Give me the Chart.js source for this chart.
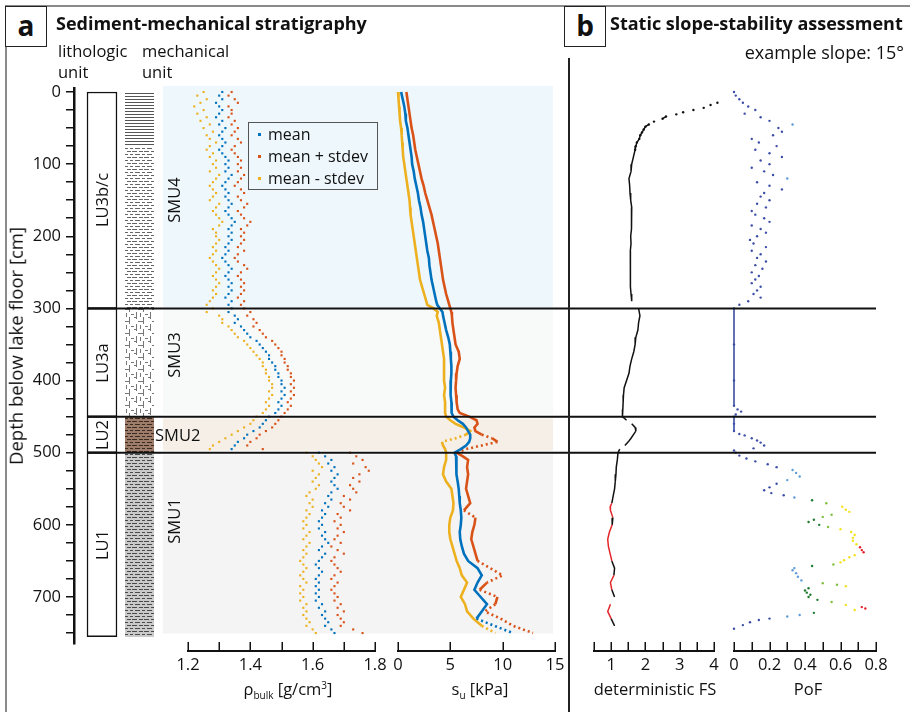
<!DOCTYPE html>
<html>
<head>
<meta charset="utf-8">
<title>Sediment-mechanical stratigraphy</title>
<script src="https://cdn.jsdelivr.net/npm/chart.js@4.4.1/dist/chart.umd.min.js"></script>
<style>
  body { margin: 0; background: #fff; }
  #fig { position: relative; width: 910px; height: 712px; overflow: hidden; font-family: "Open Sans", sans-serif; color: #111; }
  #fig canvas { position: absolute; top: 0; }
  .t { position: absolute; white-space: nowrap; font-size: 16.5px; line-height: 1; z-index: 10; }
  .rot { transform: translate(-50%, -50%) rotate(-90deg); }
  .ctr { transform: translateX(-50%); }
  .bold { font-weight: bold; font-size: 18px; }
  .box { position: absolute; border: 1.5px solid #222; box-sizing: border-box; font-weight: bold; font-size: 28px; text-align: center; line-height: 36px; z-index: 10; background: #fff; }
  .rule { position: absolute; z-index: 9; }
  #legend { position: absolute; left: 248px; top: 122px; width: 130px; height: 68px; border: 1.2px solid #555; box-sizing: border-box; z-index: 10; }
  #legend div { position: absolute; left: 19px; font-size: 16px; line-height: 1; }
  #legend span { position: absolute; left: -10px; top: 7px; width: 3px; height: 3px; }
  sub, sup { font-size: 10px; line-height: 0; }
</style>
</head>
<body>
<div id="fig">
  <div class="rule" style="left:5px;top:5px;width:905px;height:2px;background:#8a8a8a"></div>
  <div class="rule" style="left:5px;top:5px;width:2px;height:707px;background:#8a8a8a"></div>
  <div class="rule" style="left:568px;top:58px;width:1.5px;height:654px;background:#222"></div>

  <div class="box" style="left:5px;top:6px;width:42px;height:41px">a</div>
  <div class="t bold" style="left:56px;top:14px">Sediment-mechanical stratigraphy</div>
  <div class="t" style="left:58px;top:43px">lithologic</div>
  <div class="t" style="left:58px;top:64px">unit</div>
  <div class="t" style="left:142px;top:43px">mechanical</div>
  <div class="t" style="left:142px;top:64px">unit</div>

  <div class="box" style="left:564px;top:6px;width:42px;height:41px">b</div>
  <div class="t bold" style="left:610px;top:14px">Static slope-stability assessment</div>
  <div class="t" style="right:6px;top:43px;font-size:18px">example slope: 15°</div>

  <div class="t rot" style="left:16px;top:346px;font-size:18.5px">Depth below lake floor [cm]</div>

  <div class="t ctr" style="left:288px;top:681px">ρ<sub>bulk</sub> [g/cm<sup>3</sup>]</div>
  <div class="t ctr" style="left:480px;top:681px">s<sub>u</sub> [kPa]</div>
  <div class="t ctr" style="left:655px;top:681px">deterministic FS</div>
  <div class="t ctr" style="left:808px;top:681px">PoF</div>

  <div id="legend"></div>
</div>

<script>
// ---------------- data ----------------
const depthTicks = [0,25,50,75,100,125,150,175,200,225,250,275,300,325,350,375,400,425,450,475,500,525,550,575,600,625,650,675,700,725,750];
const depthLabelled = [0,100,200,300,400,500,600,700];

const luNames = ['LU3b/c','LU3a','LU2','LU1'];
const luTop = [0,300,450,500];
const luBottom = [300,450,500,755];

const mechTop = [0,75,300,450,500];
const mechBottom = [75,300,450,500,755];

const smuNames = ['SMU4','SMU3','SMU2','SMU1'];
const smuTop = [-8,302,453,503];
const smuBottom = [298,446,497,750];
const smuLabelDepth = [150,365,475,595];

const boundaryDepth = [300,450,500];

// bulk density, one value every 5 cm from 0 to 750 cm
const rhoStep = 5;
const rhoMean = [1.31,1.30,1.31,1.29,1.30,1.31,
  1.30,1.29,1.31,1.30,1.32,1.31,1.30,1.31,1.32,1.31,1.30,1.31,1.32,1.33,
  1.32,1.33,1.32,1.34,1.33,1.32,1.31,1.32,1.33,1.32,1.33,1.34,1.33,1.32,1.33,1.34,1.35,1.34,1.33,1.34,
  1.33,1.34,1.33,1.32,1.33,1.32,1.31,1.32,1.33,1.34,1.33,1.32,1.33,1.34,1.33,1.34,1.33,1.32,1.34,1.33,
  1.34,1.33,1.35,1.36,1.35,1.37,1.38,1.39,1.40,1.42,1.43,1.44,1.45,1.46,1.46,1.47,1.48,1.48,1.49,1.49,
  1.50,1.50,1.51,1.50,1.51,1.50,1.49,1.50,1.49,1.48,
  1.46,1.45,1.44,1.43,1.41,1.39,1.38,1.36,1.35,1.34,
  1.62,1.64,1.66,1.65,1.67,1.66,1.68,1.67,1.66,1.67,1.68,1.66,1.65,1.66,1.64,1.65,1.63,1.64,1.63,1.62,
  1.63,1.62,1.64,1.63,1.64,1.65,1.63,1.62,1.64,1.63,1.62,1.61,1.62,1.63,1.62,1.61,1.62,1.61,1.62,1.61,
  1.62,1.61,1.63,1.62,1.64,1.63,1.64,1.65,1.64,1.66,1.67];
const rhoPlus = [1.34,1.33,1.35,1.36,1.33,1.34,
  1.34,1.33,1.35,1.34,1.36,1.35,1.34,1.36,1.37,1.35,1.34,1.35,1.36,1.37,
  1.36,1.37,1.36,1.38,1.37,1.36,1.35,1.37,1.38,1.36,1.37,1.39,1.38,1.36,1.37,1.38,1.40,1.39,1.37,1.38,
  1.37,1.38,1.37,1.36,1.38,1.36,1.35,1.36,1.38,1.39,1.37,1.36,1.37,1.38,1.37,1.38,1.37,1.36,1.38,1.37,
  1.38,1.40,1.39,1.41,1.42,1.41,1.43,1.44,1.45,1.47,1.48,1.49,1.50,1.50,1.51,1.51,1.52,1.52,1.53,1.53,
  1.54,1.53,1.54,1.53,1.54,1.53,1.52,1.53,1.52,1.51,
  1.50,1.49,1.48,1.47,1.45,1.43,1.42,1.40,1.39,1.44,
  1.72,1.74,1.76,1.73,1.77,1.78,1.75,1.73,1.75,1.72,1.73,1.74,1.70,1.72,1.69,1.70,1.72,1.68,1.69,1.67,
  1.69,1.68,1.70,1.68,1.67,1.69,1.66,1.68,1.70,1.67,1.66,1.67,1.68,1.69,1.67,1.66,1.68,1.67,1.66,1.67,
  1.68,1.67,1.69,1.68,1.70,1.68,1.69,1.70,1.69,1.73,1.76];
const rhoMinus = [1.25,1.23,1.26,1.24,1.22,1.25,
  1.23,1.26,1.24,1.27,1.25,1.28,1.26,1.27,1.29,1.27,1.26,1.28,1.27,1.29,
  1.28,1.29,1.27,1.30,1.29,1.28,1.27,1.28,1.29,1.28,1.27,1.30,1.29,1.28,1.29,1.30,1.31,1.30,1.28,1.29,
  1.29,1.30,1.29,1.28,1.29,1.28,1.27,1.28,1.29,1.30,1.29,1.28,1.29,1.30,1.29,1.28,1.29,1.28,1.27,1.26,
  1.28,1.26,1.30,1.31,1.31,1.33,1.34,1.35,1.36,1.38,1.39,1.40,1.41,1.42,1.43,1.44,1.44,1.45,1.45,1.46,
  1.46,1.47,1.47,1.46,1.47,1.46,1.45,1.46,1.45,1.44,
  1.42,1.41,1.40,1.38,1.36,1.34,1.32,1.30,1.28,1.27,
  1.58,1.60,1.61,1.62,1.63,1.60,1.62,1.61,1.60,1.62,1.61,1.59,1.58,1.60,1.59,1.60,1.58,1.59,1.58,1.57,
  1.58,1.57,1.59,1.58,1.57,1.59,1.58,1.57,1.58,1.57,1.56,1.57,1.58,1.57,1.56,1.57,1.58,1.56,1.57,1.56,
  1.57,1.56,1.58,1.57,1.58,1.57,1.58,1.59,1.58,1.60,1.61];

// undrained shear strength [kPa]
const suDepth = [0,10,20,30,40,50,60,70,80,90,100,110,120,130,140,150,160,170,180,190,200,210,220,230,240,250,260,270,280,290,
  295,300,305,310,320,330,340,350,360,370,380,390,400,410,420,430,
  440,445,450,455,460,465,470,475,480,485,490,495,500,505,510,
  520,530,540,550,560,570,580,590,600,610,620,630,640,650,660,670,680,690,700,710,720,730,740,750];
const suMean = [0.3,0.45,0.6,0.7,0.75,0.9,1.0,1.1,1.2,1.3,1.35,1.5,1.6,1.75,1.9,2.0,2.15,2.25,2.4,2.5,2.6,2.7,2.8,2.95,3.0,3.1,3.2,3.35,3.5,3.65,
  3.75,4.0,4.25,4.3,4.45,4.6,4.8,4.95,5.0,5.05,5.1,5.1,5.05,5.0,5.05,5.1,
  5.1,5.15,5.3,5.7,6.2,6.5,6.7,6.9,6.9,6.8,6.5,6.0,5.4,5.55,5.6,
  5.55,5.6,5.7,5.8,5.85,5.9,6.0,6.05,6.0,5.9,5.95,6.1,6.3,6.7,7.6,8.0,7.6,7.3,7.9,8.5,8.0,7.5,9.2,11.0];
const suPlus = [0.8,0.9,1.0,1.1,1.2,1.3,1.45,1.55,1.65,1.8,1.95,2.1,2.25,2.45,2.6,2.8,3.0,3.2,3.35,3.5,3.65,3.8,3.9,4.0,4.1,4.2,4.3,4.45,4.6,4.8,
  4.9,5.0,5.1,5.15,5.2,5.3,5.4,5.5,5.8,5.9,5.7,5.6,5.55,5.5,5.55,5.6,
  5.7,5.9,6.8,7.5,7.6,7.3,7.4,8.0,9.0,9.5,8.0,6.5,5.6,6.2,6.7,
  6.6,6.7,6.6,6.5,6.7,6.9,6.3,7.4,7.3,7.1,7.0,7.2,7.4,7.6,8.8,10.0,8.5,7.8,9.5,9.3,8.3,9.8,11.0,12.9];
const suMinus = [0.0,0.05,0.1,0.15,0.2,0.3,0.35,0.4,0.45,0.5,0.6,0.7,0.8,0.9,1.0,1.1,1.15,1.2,1.3,1.4,1.5,1.6,1.7,1.8,1.9,2.0,2.1,2.3,2.5,2.7,
  2.8,3.4,3.8,3.7,3.9,4.0,4.1,4.2,4.3,4.4,4.4,4.4,4.4,4.5,4.4,4.5,
  4.5,4.5,4.6,5.0,5.5,6.3,6.9,6.5,5.5,4.2,4.3,4.5,4.6,4.6,4.6,
  4.4,4.3,4.6,5.1,5.2,5.3,5.25,5.0,4.9,4.9,5.0,5.2,5.4,5.6,5.9,6.1,6.6,6.3,6.0,6.4,6.6,7.2,8.0,9.3];

// deterministic factor of safety
const fsDepth = [15,18,22,25,28,31,34,37,41,45,48,52,56,60,65,70,75,80,
  90,100,110,120,130,140,150,160,170,180,190,200,210,220,230,240,250,260,270,280,290,
  300,310,320,330,340,350,360,370,380,390,400,410,420,430,440,450,
  455,460,465,470,475,480,485,490,495,500,
  510,520,530,540,550,560,570,575,580,590,600,610,620,630,640,650,660,670,680,690,700,710,720,730,740,745,750];
const fsValue = [4.1,3.9,3.7,3.4,3.1,2.9,2.6,2.5,2.25,2.1,2.0,1.95,1.9,1.85,1.82,1.75,1.72,1.7,
  1.65,1.6,1.58,1.52,1.54,1.55,1.57,1.6,1.6,1.58,1.6,1.57,1.58,1.56,1.57,1.55,1.57,1.55,1.57,1.58,1.6,
  1.8,1.84,1.8,1.78,1.72,1.7,1.66,1.6,1.55,1.52,1.45,1.38,1.36,1.35,1.34,1.33,
  1.45,1.6,1.7,1.72,1.65,1.58,1.5,1.4,1.25,1.2,
  1.18,1.15,1.14,1.12,1.1,1.06,1.02,0.97,0.98,1.05,1.03,0.95,0.9,0.92,0.97,1.02,1.1,1.08,0.98,1.02,1.1,0.98,0.9,1.0,1.1,1.3,1.55];

// probability of failure
const pofDepth = [0,5,10,15,20,25,30,35,40,45,50,55,60,65,70,75,80,85,90,95,100,105,110,115,120,125,130,135,140,145,150,
  155,160,165,170,175,180,185,190,195,200,205,210,215,220,225,230,235,240,245,250,255,260,265,270,275,280,285,290,295,300,
  350,400,435,440,443,447,450,460,470,474,476,480,483,486,490,494,497,500,504,508,512,516,520,524,528,533,538,543,548,552,
  556,559,562,566,570,575,579,582,586,589,593,596,600,603,606,610,614,618,622,627,631,635,638,642,645,649,652,655,657,660,
  663,667,672,677,681,683,685,688,691,694,697,700,704,707,711,714,716,718,722,725,727,730,732,735,739,744];
const pofValue = [0.0,0.01,0.03,0.05,0.08,0.12,0.06,0.15,0.2,0.33,0.25,0.27,0.22,0.1,0.14,0.24,0.12,0.2,0.27,0.15,0.2,0.1,0.17,0.22,0.3,0.13,0.2,0.27,0.17,0.15,0.2,
  0.13,0.18,0.1,0.12,0.17,0.2,0.1,0.15,0.18,0.13,0.09,0.11,0.18,0.1,0.15,0.13,0.18,0.12,0.16,0.1,0.14,0.12,0.1,0.15,0.13,0.11,0.15,0.08,0.03,0.0,
  0,0,0,0.02,0.04,0.01,0,0,0,0.03,0.06,0.1,0.13,0.15,0.17,0.11,0,0.01,0.03,0.07,0.12,0.19,0.24,0.33,0.35,0.37,0.3,0.24,0.2,0.17,
  0.21,0.28,0.34,0.44,0.52,0.61,0.63,0.65,0.55,0.5,0.45,0.42,0.48,0.53,0.6,0.66,0.68,0.67,0.67,0.69,0.71,0.72,0.73,0.68,0.65,0.62,0.6,0.56,0.44,0.34,
  0.33,0.35,0.36,0.38,0.5,0.58,0.63,0.42,0.4,0.41,0.43,0.42,0.47,0.55,0.63,0.72,0.74,0.68,0.45,0.37,0.3,0.2,0.14,0.09,0.05,0];

// axis ticks
const rhoTicks = [1.2,1.3,1.4,1.5,1.6,1.7,1.8];
const rhoTickLabels = ['1.2','','1.4','','1.6','','1.8'];
const suTicks = [0,5,10,15];
const suTickLabels = ['0','5','10','15'];
const fsTicks = [0.5,1,1.5,2,2.5,3,3.5,4];
const fsTickLabels = ['','1','','2','','3','','4'];
const pofTicks = [0,0.1,0.2,0.3,0.4,0.5,0.6,0.7,0.8];
const pofTickLabels = ['0','','0.2','','0.4','','0.6','','0.8'];

const seriesNames = ['mean','mean + stdev','mean - stdev'];

// ---------------- styles ----------------
const BLUE = '#0072BD', RED = '#D95319', YELLOW = '#EDB120';
const smuColors = ['#eef7fc','#f8f9f9','#f5efe8','#f4f4f4'];

function pofColor(v) {
  if (v >= 0.7) return '#e4202a';
  if (v >= 0.6) return '#f2e21a';
  if (v >= 0.5) return '#7fbf3f';
  if (v >= 0.4) return '#1f7a2e';
  if (v >= 0.3) return '#5b9bd8';
  return '#3c4ea6';
}

// ---------------- layout helpers ----------------
Chart.defaults.font.family = '"Open Sans", sans-serif';
Chart.defaults.font.size = 16.5;
Chart.defaults.color = '#111';

const fig = document.getElementById('fig');
const K = 0.7214, Y0 = 92, H = 712;   // px per cm, pixel of 0 cm, canvas height
const DMIN = -10, DMAX = 775;
const AXIS_H = 30;                    // room kept for the x tick labels

function vpad(min, max) {
  return { top: Y0 + K * min, bottom: H - (Y0 + K * max) };
}

function canvasAt(left, width, z) {
  const c = document.createElement('canvas');
  c.width = width; c.height = H;
  c.style.left = left + 'px';
  c.style.zIndex = z;
  fig.appendChild(c);
  return c;
}

function baseOptions(x, y, padL, padR, v, axisH) {
  return {
    responsive: false, animation: false, events: [],
    layout: { padding: { left: padL, right: padR, top: v.top, bottom: v.bottom - (axisH || 0) } },
    plugins: { legend: { display: false }, tooltip: { enabled: false } },
    scales: { x: x, y: y }
  };
}

const hiddenDepth = () => ({ type: 'linear', display: false, reverse: true, min: DMIN, max: DMAX });

function xAxis(min, max, ticks, labels) {
  return {
    type: 'linear', position: 'bottom', min: min, max: max,
    afterFit: s => { s.height = AXIS_H; },
    afterBuildTicks: s => { s.ticks = ticks.map(v => ({ value: v })); },
    grid: { display: true, drawOnChartArea: false, drawTicks: false },
    border: { display: true, color: '#111', width: 2 },
    ticks: { autoSkip: false, maxRotation: 0, padding: 4, callback: (v, i) => labels[i] }
  };
}

// tick marks pointing up into the plot
const innerTicks = {
  id: 'innerTicks',
  afterDraw(chart) {
    const s = chart.scales.x, ctx = chart.ctx;
    ctx.save();
    ctx.strokeStyle = '#111';
    ctx.lineWidth = 1.5;
    s.ticks.forEach(t => {
      const px = Math.round(s.getPixelForValue(t.value)) + 0.25;
      ctx.beginPath();
      ctx.moveTo(px, s.top);
      ctx.lineTo(px, s.top - 9);
      ctx.stroke();
    });
    ctx.restore();
  }
};

function pattern(bg, fg, w, h, rects) {
  const c = document.createElement('canvas');
  c.width = w; c.height = h;
  const g = c.getContext('2d');
  g.fillStyle = bg; g.fillRect(0, 0, w, h);
  g.fillStyle = fg;
  rects.forEach(r => g.fillRect(r[0], r[1], r[2], r[3]));
  return g.createPattern(c, 'repeat');
}
const dashes = [[0,1,5,1],[7,1,4,1],[3,4,5,1],[10,4,2,1],[0,4,1,1]];
const mechFills = [
  pattern('#fff', '#555', 8, 3, [[0,0,8,1]]),
  pattern('#fff', '#666', 12, 6, dashes),
  pattern('#fff', '#777', 14, 12, [[2,0,1,7],[9,5,1,7],[4,9,5,1],[11,2,3,1],[0,5,2,1],[6,1,1,4]]),
  pattern('#9d7d69', '#3b2a22', 12, 6, dashes),
  pattern('#cacaca', '#4a4a4a', 12, 6, dashes)
];

// ---------------- charts ----------------
const full = vpad(DMIN, DMAX);

// SMU background bands
const bandsChart = new Chart(canvasAt(163, 390, 1), {
  type: 'bar',
  data: {
    labels: [''],
    datasets: smuNames.map((n, i) => ({
      label: n, data: [[smuTop[i], smuBottom[i]]], backgroundColor: smuColors[i],
      barPercentage: 1, categoryPercentage: 1, grouped: false
    }))
  },
  options: baseOptions({ display: false }, hiddenDepth(), 0, 0, full)
});

// depth axis
const dv = vpad(-5, 765);
new Chart(canvasAt(0, 90, 2), {
  type: 'scatter',
  data: { datasets: [] },
  options: baseOptions({ type: 'linear', display: false }, {
    type: 'linear', position: 'left', reverse: true, min: -5, max: 765,
    afterFit: s => { s.width = 74; },
    afterBuildTicks: s => { s.ticks = depthTicks.map(v => ({ value: v })); },
    grid: { display: true, drawOnChartArea: false, drawTicks: true, tickLength: 8, color: '#111', lineWidth: 1.5 },
    border: { display: true, color: '#111', width: 2.5 },
    ticks: { autoSkip: false, padding: 5, callback: v => depthLabelled.includes(v) ? String(v) : '' }
  }, 0, 0, dv)
});

// lithologic units
new Chart(canvasAt(80, 44, 2), {
  type: 'bar',
  data: {
    labels: [''],
    datasets: luNames.map((n, i) => ({
      label: n, data: [[luTop[i], luBottom[i]]], backgroundColor: '#fff',
      borderColor: '#111', borderWidth: 1.5, borderSkipped: false,
      barPercentage: 1, categoryPercentage: 1, grouped: false, clip: false
    }))
  },
  options: baseOptions({ display: false }, hiddenDepth(), 7, 7, full)
});

// mechanical units
new Chart(canvasAt(120, 40, 2), {
  type: 'bar',
  data: {
    labels: [''],
    datasets: mechTop.map((t, i) => ({
      data: [[t, mechBottom[i]]], backgroundColor: mechFills[i], borderWidth: 0,
      barPercentage: 1, categoryPercentage: 1, grouped: false
    }))
  },
  options: baseOptions({ display: false }, hiddenDepth(), 5, 6, full)
});

const pts = (vals, depth) => vals.map((v, i) => ({ x: v, y: depth[i] }));
const rhoDepth = rhoMean.map((v, i) => i * rhoStep);

// bulk density
new Chart(canvasAt(163, 240, 3), {
  type: 'scatter',
  data: {
    datasets: [[rhoMean, BLUE], [rhoPlus, RED], [rhoMinus, YELLOW]].map((s, i) => ({
      label: seriesNames[i], data: pts(s[0], rhoDepth),
      pointStyle: 'rect', pointRadius: 1.5, pointBorderWidth: 0, pointBackgroundColor: s[1], clip: false
    }))
  },
  options: baseOptions(xAxis(1.2, 1.8, rhoTicks, rhoTickLabels), hiddenDepth(), 25, 28, full, AXIS_H),
  plugins: [innerTicks]
});

// undrained shear strength
const jumpDash = c => Math.abs(c.p1.parsed.x - c.p0.parsed.x) > 0.9 ? [2, 3] : undefined;
new Chart(canvasAt(373, 207, 3), {
  type: 'scatter',
  data: {
    datasets: [[suMean, BLUE], [suPlus, RED], [suMinus, YELLOW]].map((s, i) => ({
      label: seriesNames[i], data: pts(s[0], suDepth), showLine: true,
      borderColor: s[1], borderWidth: 2.6, pointRadius: 0, clip: false,
      segment: { borderDash: jumpDash }
    }))
  },
  options: baseOptions(xAxis(0, 15, suTicks, suTickLabels), hiddenDepth(), 25, 25, full, AXIS_H),
  plugins: [innerTicks]
});

// deterministic FS
new Chart(canvasAt(569, 170, 3), {
  type: 'scatter',
  data: {
    datasets: [{
      data: pts(fsValue, fsDepth), showLine: true, borderColor: '#111', borderWidth: 1.5, clip: false,
      pointRadius: c => c.dataIndex < 18 ? 1.2 : 0, pointBorderWidth: 0, pointBackgroundColor: '#111',
      segment: {
        borderColor: c => {
          const a = c.p0.parsed.x, b = c.p1.parsed.x;
          if (Math.abs(a - b) > 0.12) return 'transparent';
          return Math.min(a, b) < 1 ? '#e3262a' : '#111';
        }
      }
    }]
  },
  options: baseOptions(xAxis(0.5, 4, fsTicks, fsTickLabels), hiddenDepth(), 25, 25, full, AXIS_H),
  plugins: [innerTicks]
});

// probability of failure
new Chart(canvasAt(709, 195, 3), {
  type: 'scatter',
  data: {
    datasets: [{
      data: pts(pofValue, pofDepth), showLine: true, borderColor: '#3c4ea6', borderWidth: 1.6, clip: false,
      pointRadius: 1.2, pointBorderWidth: 0, pointBackgroundColor: c => pofColor(c.raw.x),
      segment: { borderColor: c => (c.p0.parsed.x === 0 && c.p1.parsed.x === 0) ? '#3c4ea6' : 'transparent' }
    }]
  },
  options: baseOptions(xAxis(0, 0.8, pofTicks, pofTickLabels), hiddenDepth(), 25, 28, full, AXIS_H),
  plugins: [innerTicks]
});

// unit boundaries across both panels
new Chart(canvasAt(80, 805, 4), {
  type: 'scatter',
  data: {
    datasets: boundaryDepth.map(d => ({
      data: [{ x: 0, y: d }, { x: 1, y: d }], showLine: true,
      borderColor: '#111', borderWidth: 2, pointRadius: 0, clip: false
    }))
  },
  options: baseOptions({ type: 'linear', display: false, min: 0, max: 1 }, hiddenDepth(), 7, 9, full)
});

// ---------------- text placed on the depth scale ----------------
const ys = bandsChart.scales.y;
function label(text, x, y, cls) {
  const d = document.createElement('div');
  d.className = 't ' + cls;
  d.style.left = x + 'px';
  d.style.top = y + 'px';
  d.textContent = text;
  fig.appendChild(d);
}
luNames.forEach((n, i) => label(n, 102, ys.getPixelForValue((luTop[i] + luBottom[i]) / 2), 'rot'));
smuNames.forEach((n, i) => {
  const y = ys.getPixelForValue(smuLabelDepth[i]);
  if (n === 'SMU2') label(n, 155, y - 8, '');
  else label(n, 174, y, 'rot');
});

// legend
const legend = document.getElementById('legend');
[BLUE, RED, YELLOW].forEach((c, i) => {
  const row = document.createElement('div');
  row.style.top = (3 + i * 22) + 'px';
  row.innerHTML = '<span style="background:' + c + '"></span>' + seriesNames[i];
  legend.appendChild(row);
});
</script>
</body>
</html>
